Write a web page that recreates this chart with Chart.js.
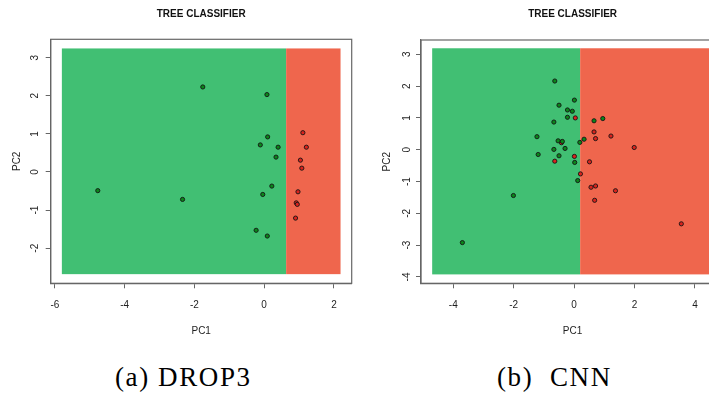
<!DOCTYPE html>
<html>
<head>
<meta charset="utf-8">
<title>Tree classifier regions</title>
<script src="https://cdn.jsdelivr.net/npm/chart.js@4.4.1/dist/chart.umd.min.js"></script>
<style>
  html, body { margin: 0; padding: 0; background: #fff; width: 709px; height: 397px; overflow: hidden; }
  .panel { position: absolute; top: 0; }
  .caption {
    position: absolute; top: 364px;
    font: 27px "Liberation Serif", "Times New Roman", serif;
    line-height: 27px; letter-spacing: 1.6px; white-space: pre; color: #000;
  }
</style>
</head>
<body>
<div class="panel" style="left:0"><canvas id="drop3Chart" width="360" height="345"></canvas></div>
<div class="panel" style="left:360px"><canvas id="cnnChart" width="380" height="345"></canvas></div>
<div class="caption" style="left:115px">(a) DROP3</div>
<div class="caption" style="left:497px">(b)  CNN</div>

<script>
// ---- DROP3 reduced set ----
const drop3GreenPC1 = [-1.76, 0.08, 0.10, -0.11, 0.40, 0.34, 0.22, -0.04, -4.77, -2.34, -0.23, 0.09];
const drop3GreenPC2 = [2.23, 2.03, 0.92, 0.71, 0.65, 0.39, -0.37, -0.59, -0.49, -0.72, -1.53, -1.68];
const drop3RedPC1 = [1.11, 1.21, 1.04, 1.08, 0.97, 0.92, 0.95, 0.90];
const drop3RedPC2 = [1.03, 0.65, 0.31, 0.10, -0.52, -0.81, -0.85, -1.21];
// tree split on PC1: green region left of the cut, red region right of it
const drop3CutsPC1 = [-5.80, 0.63, 2.19];
const drop3SpanPC2 = [-2.68, 3.24];
const drop3TicksPC1 = [-6, -4, -2, 0, 2];
const drop3TicksPC2 = [-2, -1, 0, 1, 2, 3];

// ---- CNN reduced set ----
const cnnGreenPC1 = [-0.64, 0.01, -0.50, -0.22, -0.06, -0.22, -0.67, 0.95, 0.66, -1.23, -0.53,
                     -0.39, 0.19, 0.33, -0.30, -0.67, -1.19, -0.50, 0.02, 0.12, -2.01, -3.70];
const cnnGreenPC2 = [2.16, 1.56, 1.40, 1.25, 1.21, 1.02, 0.87, 0.98, 0.91, 0.41, 0.28,
                     0.26, 0.23, 0.33, 0.04, 0.01, -0.15, -0.19, -0.40, -0.97, -1.44, -2.92];
const cnnRedPC1 = [0.04, 0.66, 0.71, 1.22, 1.99, -0.42, 0.01, -0.64, 0.51, 0.21, 0.56, 0.71, 1.37, 0.68, 3.55];
const cnnRedPC2 = [1.00, 0.56, 0.35, 0.43, 0.07, 0.22, -0.21, -0.36, -0.38, -0.76, -1.18, -1.14, -1.29, -1.59, -2.33];
const cnnCutsPC1 = [-4.70, 0.20, 4.60];
const cnnSpanPC2 = [-3.92, 3.19];
const cnnTicksPC1 = [-4, -2, 0, 2, 4];
const cnnTicksPC2 = [-4, -3, -2, -1, 0, 1, 2, 3];

const regionColors = ['#41bf73', '#ef664d'];
const axisColor = '#666';
const textColor = '#1e1e1e';

Chart.defaults.font.family = '"Liberation Sans", Arial, sans-serif';
Chart.defaults.font.size = 10;

const toPoints = (xs, ys) => xs.map((x, i) => ({ x: x, y: ys[i] }));

// fills the classifier regions and draws the box round the plot
const decisionRegions = {
  id: 'decisionRegions',
  beforeDatasetsDraw(chart, args, opts) {
    const { ctx, scales: { x, y } } = chart;
    const top = y.getPixelForValue(opts.span[1]);
    const bottom = y.getPixelForValue(opts.span[0]);
    ctx.save();
    opts.colors.forEach((c, i) => {
      const left = x.getPixelForValue(opts.cuts[i]);
      const right = x.getPixelForValue(opts.cuts[i + 1]);
      ctx.fillStyle = c;
      ctx.fillRect(left, top, right - left, bottom - top);
    });
    ctx.restore();
  },
  afterDraw(chart) {
    const { ctx, chartArea: a } = chart;
    ctx.save();
    ctx.strokeStyle = axisColor;
    ctx.lineWidth = 1.2;
    ctx.strokeRect(a.left, a.top, a.right - a.left, a.bottom - a.top);
    ctx.restore();
  }
};

function makePanel(id, p) {
  const canvas = document.getElementById(id);
  const H = canvas.height;
  return new Chart(canvas, {
    type: 'scatter',
    data: {
      datasets: [
        { data: toPoints(p.greenX, p.greenY), backgroundColor: '#0a861a' },
        { data: toPoints(p.redX, p.redY), backgroundColor: '#d9231d' }
      ]
    },
    options: {
      responsive: false,
      animation: false,
      events: [],
      elements: { point: { radius: 2.1, borderWidth: 0.9, borderColor: '#141414' } },
      layout: { padding: { left: 0, right: p.padRight, top: 0, bottom: 0 } },
      plugins: {
        legend: { display: false },
        tooltip: { enabled: false },
        title: {
          display: true,
          text: 'TREE CLASSIFIER',
          fullSize: false,
          color: '#111',
          font: { size: 10, weight: 'bold' },
          padding: { top: 8.5, bottom: p.top - 20.5 }
        },
        decisionRegions: { cuts: p.cuts, span: p.span, colors: regionColors }
      },
      scales: {
        x: {
          type: 'linear',
          min: p.xMin, max: p.xMax,
          afterBuildTicks: s => { s.ticks = p.ticksX.map(v => ({ value: v })); },
          afterFit: s => { s.height = H - p.bottom; },
          grid: { drawOnChartArea: false, drawTicks: true, tickLength: 5, color: axisColor, lineWidth: 1 },
          border: { display: true, color: axisColor, width: 1.2 },
          ticks: { color: textColor, padding: 10.5, maxRotation: 0 },
          title: { display: true, text: 'PC1', color: textColor, padding: { top: 0, bottom: 7.5 } }
        },
        y: {
          type: 'linear',
          min: p.yMin, max: p.yMax,
          afterBuildTicks: s => { s.ticks = p.ticksY.map(v => ({ value: v })); },
          afterFit: s => { s.width = p.left; },
          grid: { drawOnChartArea: false, drawTicks: true, tickLength: 5, color: axisColor, lineWidth: 1 },
          border: { display: true, color: axisColor, width: 1.2 },
          ticks: { color: textColor, padding: p.yTickPad, minRotation: 90, maxRotation: 90, crossAlign: 'center' },
          title: { display: true, text: 'PC2', color: textColor, padding: { top: p.yTitlePad, bottom: 0 } }
        }
      }
    },
    plugins: [decisionRegions]
  });
}

makePanel('drop3Chart', {
  greenX: drop3GreenPC1, greenY: drop3GreenPC2, redX: drop3RedPC1, redY: drop3RedPC2,
  cuts: drop3CutsPC1, span: drop3SpanPC2, ticksX: drop3TicksPC1, ticksY: drop3TicksPC2,
  xMin: -6.12, xMax: 2.51, yMin: -2.92, yMax: 3.48,
  left: 50.7, top: 39.3, bottom: 283.3, padRight: 8.3,
  yTickPad: 6.2, yTitlePad: 11
});

makePanel('cnnChart', {
  greenX: cnnGreenPC1, greenY: cnnGreenPC2, redX: cnnRedPC1, redY: cnnRedPC2,
  cuts: cnnCutsPC1, span: cnnSpanPC2, ticksX: cnnTicksPC1, ticksY: cnnTicksPC2,
  xMin: -5.07, xMax: 4.97, yMin: -4.2, yMax: 3.45,
  left: 61, top: 40, bottom: 283.3, padRight: 15.8,
  yTickPad: 4.5, yTitlePad: 21
});
</script>
</body>
</html>
